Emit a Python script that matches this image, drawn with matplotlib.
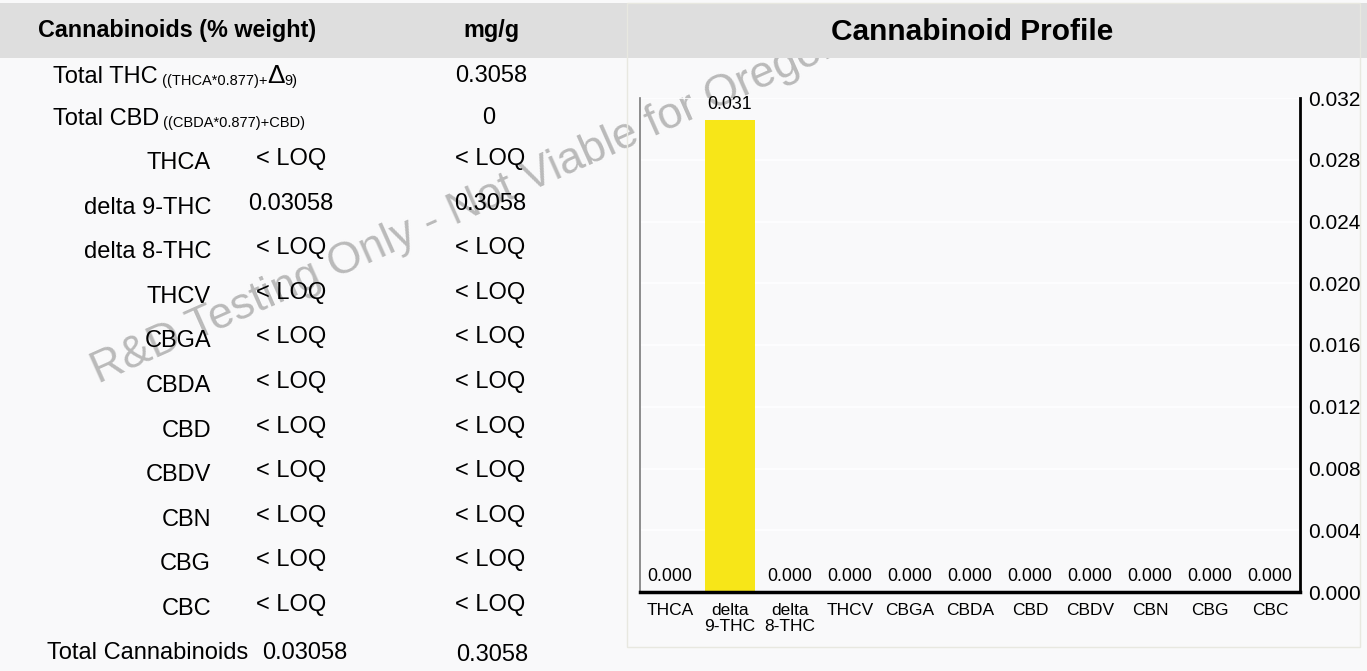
import matplotlib.pyplot as plt
from matplotlib.patches import Rectangle

plt.rcParams['font.family'] = ['Liberation Sans', 'DejaVu Sans']

# chart data
cats = ['THCA', 'delta\n9-THC', 'delta\n8-THC', 'THCV', 'CBGA', 'CBDA',
        'CBD', 'CBDV', 'CBN', 'CBG', 'CBC']
pct = [0, 0.03058, 0, 0, 0, 0, 0, 0, 0, 0, 0]
yticks = [0.000, 0.004, 0.008, 0.012, 0.016, 0.020, 0.024, 0.028, 0.032]

# table data
names = ['THCA', 'delta 9-THC', 'delta 8-THC', 'THCV', 'CBGA', 'CBDA',
         'CBD', 'CBDV', 'CBN', 'CBG', 'CBC']
pct_txt = ['< LOQ', '0.03058', '< LOQ', '< LOQ', '< LOQ', '< LOQ',
           '< LOQ', '< LOQ', '< LOQ', '< LOQ', '< LOQ']
mg_txt = ['< LOQ', '0.3058', '< LOQ', '< LOQ', '< LOQ', '< LOQ',
          '< LOQ', '< LOQ', '< LOQ', '< LOQ', '< LOQ']
total_thc_mg = '0.3058'
total_cbd_mg = '0'
total_pct = '0.03058'
total_mg = '0.3058'

W, H = 1367, 671
fig = plt.figure(figsize=(W / 100, H / 100), dpi=100)
fig.patch.set_facecolor('#f9f9fa')

# background axes in pixel coordinates for table, header, watermark
bg = fig.add_axes([0, 0, 1, 1], zorder=0)
bg.set_xlim(0, W)
bg.set_ylim(H, 0)
bg.axis('off')

bg.text(98, 384, 'R&D Testing Only - Not Viable for Oregon',
        rotation=24, rotation_mode='anchor', ha='left', va='baseline',
        fontsize=32, color='#bababa', zorder=0)

bg.add_patch(Rectangle((0, 3), W, 55, facecolor='#dedede', edgecolor='none', zorder=1))
bg.add_patch(Rectangle((627, 3), 733, 644, facecolor='none', edgecolor='#e8e8e0',
                       lw=1, zorder=2))

bg.text(177, 30, 'Cannabinoids (% weight)', ha='center', va='center',
        fontsize=16.8, fontweight='bold', zorder=3)
bg.text(491, 30, 'mg/g', ha='center', va='center', fontsize=16.8,
        fontweight='bold', zorder=3)
bg.text(972, 32, 'Cannabinoid Profile', ha='center', va='center',
        fontsize=21.5, fontweight='bold', zorder=3)

row_fs = 17
note_fs = 10.5


def formula_row(y, label, parts):
    prev = bg.text(53, y, label, ha='left', va='baseline', fontsize=row_fs)
    for txt, fs in parts:
        prev = bg.annotate(txt, xy=(1, 0), xycoords=prev, xytext=(0, 0),
                           textcoords='offset points', ha='left', va='bottom',
                           fontsize=fs)


formula_row(83, 'Total THC', [(' ((THCA*0.877)+', note_fs), ('Δ', 19), ('9)', note_fs)])
formula_row(125, 'Total CBD', [(' ((CBDA*0.877)+CBD)', note_fs)])
bg.text(491, 76, total_thc_mg, ha='center', va='center', fontsize=row_fs)
bg.text(489, 118, total_cbd_mg, ha='center', va='center', fontsize=row_fs)

row_y0, row_dy = 163, 44.6
for i, name in enumerate(names):
    y = row_y0 + i * row_dy
    bg.text(211, y, name, ha='right', va='center', fontsize=row_fs)
    bg.text(291, y - 4, pct_txt[i], ha='center', va='center', fontsize=row_fs)
    bg.text(490, y - 4, mg_txt[i], ha='center', va='center', fontsize=row_fs)

bg.text(47, 653, 'Total Cannabinoids', ha='left', va='center', fontsize=row_fs)
bg.text(305, 653, total_pct, ha='center', va='center', fontsize=row_fs)
bg.text(492, 655, total_mg, ha='center', va='center', fontsize=row_fs)

# bar chart
ax = fig.add_axes([640 / W, 1 - 592 / H, 660 / W, 494 / H], zorder=1)
ax.patch.set_alpha(0)
x = range(len(cats))
ax.bar(x, pct, width=0.82, color='#f7e618', zorder=2)
for i, v in enumerate(pct):
    ax.annotate(f'{v:.3f}', (i, v), xytext=(0, 5), textcoords='offset points',
                ha='center', va='bottom', fontsize=12.8, zorder=3)
ax.set_xlim(-0.5, len(cats) - 0.5)
ax.set_ylim(0, 0.032)
ax.set_yticks(yticks)
ax.set_yticklabels([f'{t:.3f}' for t in yticks])
ax.yaxis.tick_right()
ax.tick_params(axis='y', length=0, pad=6, labelsize=15)
ax.set_xticks(list(x))
ax.set_xticklabels(cats, fontsize=12.5, linespacing=1.05)
ax.tick_params(axis='x', length=0, pad=8)
ax.grid(axis='y', color='white', lw=1.2, zorder=0)
ax.set_axisbelow(True)
ax.spines['top'].set_visible(False)
ax.spines['left'].set_color('#7a7a7a')
ax.spines['left'].set_linewidth(1.2)
ax.spines['right'].set_color('black')
ax.spines['right'].set_linewidth(2)
ax.spines['bottom'].set_color('black')
ax.spines['bottom'].set_linewidth(2.5)

fig.savefig('out.png', dpi=100, facecolor=fig.get_facecolor())
